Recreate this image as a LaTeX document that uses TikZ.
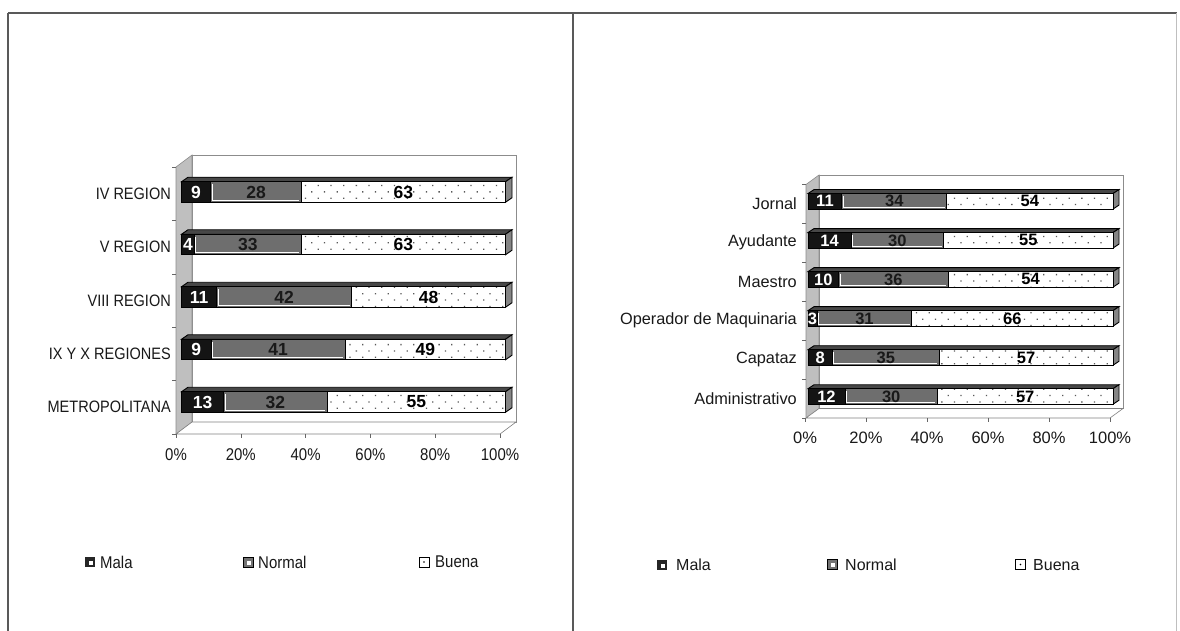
\documentclass[tikz,border=0pt]{standalone}
\usepackage{fontspec}
\setmainfont{Liberation Sans}
\newfontfamily\condfont[FakeStretch=0.88]{Liberation Sans}
\usetikzlibrary{patterns.meta}
\tikzset{
  frameline/.style={draw=black!65, line width=1.2pt},
  wallback/.style={fill=white, draw=black!45, line width=0.6pt},
  wallleft/.style={fill=black!25, draw=black!45, line width=0.6pt},
  floorface/.style={fill=white, draw=black!50, line width=0.6pt},
  malaseg/.style={fill=black!92, draw=black, line width=0.9pt},
  normalseg/.style={fill=black!57, draw=black, line width=0.9pt},
  buenaseg/.style={fill=white, draw=black, line width=0.9pt},
  buenadots/.style={pattern={Dots[distance=9pt, angle=45, radius=0.9pt]}, pattern color=black!65},
  topface/.style={fill=black!72, draw=black, line width=0.9pt},
  sideface/.style={fill=black!48, draw=black, line width=0.9pt},
  valL/.style={font=\bfseries\fontsize{17.5}{17.5}\selectfont, inner sep=0pt},
  valR/.style={font=\bfseries\fontsize{16.5}{16.5}\selectfont, inner sep=0pt},
  catL/.style={anchor=east, inner sep=0pt, text=black!90, font=\condfont\fontsize{16.5}{16.5}\selectfont},
  catR/.style={anchor=east, inner sep=0pt, text=black!90, font=\fontsize{16.3}{16.3}\selectfont},
  axL/.style={inner sep=0pt, text=black!90, font=\condfont\fontsize{17}{17}\selectfont},
  axR/.style={inner sep=0pt, text=black!90, font=\fontsize{16.5}{16.5}\selectfont},
  legL/.style={anchor=west, inner sep=0pt, text=black!90, font=\condfont\fontsize{17}{17}\selectfont},
  legR/.style={anchor=west, inner sep=0pt, text=black!90, font=\fontsize{16}{16}\selectfont},
  tickline/.style={draw=black!60, line width=0.6pt},
}
\begin{document}
\begin{tikzpicture}[x=1pt, y=-1pt]
\useasboundingbox (0,0) rectangle (1180,631);
\fill[white] (0,0) rectangle (1180,631);
% frame
\draw[frameline] (8,13) -- (1177,13);
\draw[frameline] (8,13) -- (8,631);
\draw[frameline] (573,13) -- (573,631);
\draw[draw=black!25, line width=0.8pt] (1176,13) -- (1176,631);

%================ LEFT CHART =================
\draw[wallback] (192,155) rectangle (516,422);
\draw[wallleft] (176,167) -- (192,155) -- (192,422) -- (176,434) -- cycle;
\draw[floorface] (176,434) -- (500,434) -- (516,422) -- (192,422) -- cycle;
\foreach \k in {0,...,5} {
  \draw[tickline] (172,{167+53.4*\k}) -- (176,{167+53.4*\k});
}
\foreach \k in {0,...,5} {
  \draw[tickline] ({176+64.8*\k},434) -- ({176+64.8*\k},438);
}
\def\Lx{181.5}\def\Ls{3.24}\def\Lh{20.5}\def\Ldx{6.5}\def\Ldy{4.5}
\foreach \nm/\k/\va/\vb/\vc in {iv/0/9/28/63, v/1/4/33/63, viii/2/11/42/48, ix/3/9/41/49, met/4/13/32/55} {
  \pgfmathsetmacro{\yc}{192+52.5*\k}
  \pgfmathsetmacro{\unit}{\Ls*100/(\va+\vb+\vc)}
  \pgfmathsetmacro{\xa}{\Lx+\unit*\va}
  \pgfmathsetmacro{\xb}{\Lx+\unit*(\va+\vb)}
  \pgfmathsetmacro{\xe}{\Lx+\Ls*100}
  \pgfmathsetmacro{\yt}{\yc-\Lh/2}
  \pgfmathsetmacro{\yb}{\yc+\Lh/2}
  \draw[topface] (\Lx,\yt) -- ++(\Ldx,-\Ldy) -- ({\xe+\Ldx},{\yt-\Ldy}) -- (\xe,\yt) -- cycle;
  \draw[sideface] (\xe,\yt) -- ++(\Ldx,-\Ldy) -- ({\xe+\Ldx},{\yb-\Ldy}) -- (\xe,\yb) -- cycle;
  \draw[malaseg] (\Lx,\yt) rectangle (\xa,\yb);
  \draw[normalseg] (\xa,\yt) rectangle (\xb,\yb);
  \draw[buenaseg] (\xb,\yt) rectangle (\xe,\yb);
  \fill[buenadots] ({\xb+1},{\yt+1}) rectangle ({\xe-1},{\yb-1});
  \draw[white, line width=1pt] ({\xa+1.5},{\yt+2.5}) -- ({\xa+1.5},{\yb-2}) -- ({\xb-2},{\yb-2});
  \node[valL, text=white] (L\nm m) at ({(\Lx+\xa)/2},\yc) {\va};
  \node[valL, text=black!90] (L\nm n) at ({(\xa+\xb)/2},\yc) {\vb};
  \node[valL, text=black] (L\nm b) at ({(\xb+\xe)/2},\yc) {\vc};
}
\node[catL] (Lc1) at (171,193.7) {IV REGION};
\node[catL] (Lc2) at (171,247.1) {V REGION};
\node[catL] (Lc3) at (171,300.5) {VIII REGION};
\node[catL] (Lc4) at (171,353.9) {IX Y X REGIONES};
\node[catL] (Lc5) at (171,407.3) {METROPOLITANA};
\foreach \k/\t in {0/0\%,1/20\%,2/40\%,3/60\%,4/80\%,5/100\%} {
  \node[axL] (La\k) at ({176+64.8*\k},455) {\t};
}
% legend left
\fill[black!85] (85,557) rectangle (95,567);
\fill[white] (89,561) rectangle (93,565);
\node[legL] (Llm) at (100,562) {Mala};
\draw[fill=black!55, draw=black, line width=0.8pt] (243,557) rectangle (253,567);
\fill[white] (246.5,560.5) rectangle (250.5,564.5);
\node[legL] (Lln) at (258,562) {Normal};
\draw[fill=white, draw=black, line width=0.8pt] (419,557) rectangle (429,567);
\fill[black] (424,562) circle (0.9);
\node[legL] (Llb) at (435,562) {Buena};

%================ RIGHT CHART =================
\draw[wallback] (819,175) rectangle (1123,408.5);
\draw[wallleft] (806,184.5) -- (819,175) -- (819,408.5) -- (806,418) -- cycle;
\draw[floorface] (806,418) -- (1110,418) -- (1123,408.5) -- (819,408.5) -- cycle;
\foreach \k in {0,...,6} {
  \draw[tickline] (802,{184.5+39*\k}) -- (806,{184.5+39*\k});
}
\foreach \k in {0,...,5} {
  \draw[tickline] ({805+61*\k},418) -- ({805+61*\k},422);
}
\def\Rx{808}\def\Rs{3.05}\def\Rh{15.5}\def\Rdx{6}\def\Rdy{4}
\foreach \nm/\k/\va/\vb/\vc in {jor/0/11/34/54, ayu/1/14/30/55, mae/2/10/36/54, ope/3/3/31/66, cap/4/8/35/57, adm/5/12/30/57} {
  \pgfmathsetmacro{\yc}{201.3+39.04*\k}
  \pgfmathsetmacro{\unit}{\Rs*100/(\va+\vb+\vc)}
  \pgfmathsetmacro{\xa}{\Rx+\unit*\va}
  \pgfmathsetmacro{\xb}{\Rx+\unit*(\va+\vb)}
  \pgfmathsetmacro{\xe}{\Rx+\Rs*100}
  \pgfmathsetmacro{\yt}{\yc-\Rh/2}
  \pgfmathsetmacro{\yb}{\yc+\Rh/2}
  \draw[topface] (\Rx,\yt) -- ++(\Rdx,-\Rdy) -- ({\xe+\Rdx},{\yt-\Rdy}) -- (\xe,\yt) -- cycle;
  \draw[sideface] (\xe,\yt) -- ++(\Rdx,-\Rdy) -- ({\xe+\Rdx},{\yb-\Rdy}) -- (\xe,\yb) -- cycle;
  \draw[malaseg] (\Rx,\yt) rectangle (\xa,\yb);
  \draw[normalseg] (\xa,\yt) rectangle (\xb,\yb);
  \draw[buenaseg] (\xb,\yt) rectangle (\xe,\yb);
  \fill[buenadots] ({\xb+1},{\yt+1}) rectangle ({\xe-1},{\yb-1});
  \draw[white, line width=1pt] ({\xa+1.5},{\yt+2}) -- ({\xa+1.5},{\yb-1.5}) -- ({\xb-2},{\yb-1.5});
  \node[valR, text=white] (R\nm m) at ({(\Rx+\xa)/2},\yc) {\va};
  \node[valR, text=black!90] (R\nm n) at ({(\xa+\xb)/2},\yc) {\vb};
  \node[valR, text=black] (R\nm b) at ({(\xb+\xe)/2},\yc) {\vc};
}
\node[catR] (Rc1) at (797,203.5) {Jornal};
\node[catR] (Rc2) at (797,242.5) {Ayudante};
\node[catR] (Rc3) at (797,281.5) {Maestro};
\node[catR] (Rc4) at (797,320.5) {Operador de Maquinaria};
\node[catR] (Rc5) at (797,359.5) {Capataz};
\node[catR] (Rc6) at (797,398.5) {Administrativo};
\foreach \k/\t in {0/0\%,1/20\%,2/40\%,3/60\%,4/80\%,5/100\%} {
  \node[axR] (Ra\k) at ({805+61*\k},438) {\t};
}
% legend right
\fill[black!85] (657,559.5) rectangle (667,569.5);
\fill[white] (661,563.5) rectangle (665,567.5);
\node[legR] (Rlm) at (676,565) {Mala};
\draw[fill=black!55, draw=black, line width=0.8pt] (827,559.5) rectangle (837,569.5);
\fill[white] (830.5,563) rectangle (834.5,567);
\node[legR] (Rln) at (845,565) {Normal};
\draw[fill=white, draw=black, line width=0.8pt] (1015.5,559.5) rectangle (1025.5,569.5);
\fill[black] (1020.5,564.5) circle (0.9);
\node[legR] (Rlb) at (1033,565) {Buena};
\end{tikzpicture}
\end{document}
